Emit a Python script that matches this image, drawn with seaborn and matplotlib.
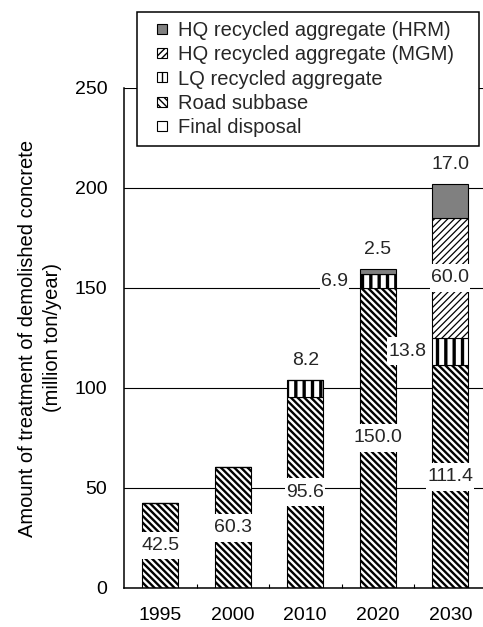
import numpy as np
import pandas as pd
import matplotlib
matplotlib.use("Agg")
import matplotlib.pyplot as plt
import seaborn as sns
from matplotlib.patches import Patch, Rectangle
from matplotlib.path import Path
from matplotlib.ticker import FixedLocator
from matplotlib.legend_handler import HandlerPatch

# Treatment of demolished concrete, million ton/year
years = ["1995", "2000", "2010", "2020", "2030"]
final_disposal = [0.0, 0.0, 0.0, 0.0, 0.0]
road_subbase = [42.5, 60.3, 95.6, 150.0, 111.4]
lq_aggregate = [0.0, 0.0, 8.2, 6.9, 13.8]
hq_mgm = [0.0, 0.0, 0.0, 0.0, 60.0]
hq_hrm = [0.0, 0.0, 0.0, 2.5, 17.0]

y_ticks = [0, 50, 100, 150, 200, 250]

# stacking order, bottom to top
layers = [
    ("Final disposal", final_disposal),
    ("Road subbase", road_subbase),
    ("LQ recycled aggregate", lq_aggregate),
    ("HQ recycled aggregate (MGM)", hq_mgm),
    ("HQ recycled aggregate (HRM)", hq_hrm),
]

# fill / hatch styling for each layer
styles = {
    "Final disposal": dict(face="white", hatch=None, hlw=1.0),
    "Road subbase": dict(face="white", hatch="\\" * 5, hlw=1.7),
    "LQ recycled aggregate": dict(face="white", hatch="||", hlw=2.4),
    "HQ recycled aggregate (MGM)": dict(face="white", hatch="/" * 5, hlw=0.9),
    "HQ recycled aggregate (HRM)": dict(face="#808080", hatch=None, hlw=1.0),
}

# where each value label sits relative to its segment
label_modes = {
    "Road subbase": ["mid", "mid", "mid", "mid", "mid"],
    "LQ recycled aggregate": [None, None, "above", "left", "left"],
    "HQ recycled aggregate (MGM)": [None, None, None, None, "mid"],
    "HQ recycled aggregate (HRM)": [None, None, None, "above", "above"],
}

sns.set_style("white")
plt.rcParams["font.family"] = ["Liberation Sans", "DejaVu Sans"]
FS = 14

W, H = 483, 627
fig = plt.figure(figsize=(W / 100, H / 100), dpi=100)
ax = fig.add_axes([124 / W, 39 / H, 362.5 / W, 500 / H])

bottom = np.zeros(len(years))
for name, values in layers:
    st = styles[name]
    n_before = len(ax.patches)
    with plt.rc_context({"hatch.linewidth": st["hlw"], "hatch.color": "black"}):
        sns.barplot(x=years, y=values, order=years, bottom=bottom.copy(),
                    width=0.5, color=st["face"], saturation=1,
                    edgecolor="black", linewidth=0.8, hatch=st["hatch"],
                    errorbar=None, ax=ax, zorder=2)
    for p in ax.patches[n_before:]:
        if hasattr(p, "set_hatch_linewidth"):
            p.set_hatch_linewidth(st["hlw"])
    bottom = bottom + np.asarray(values)


def label_box(x0, y0, width, height, mutation_size):
    px = 0.06 * mutation_size
    py = 0.28 * mutation_size
    x0, y0 = x0 - px, y0 - py
    x1, y1 = x0 + width + 2 * px, y0 + height + 2 * py
    return Path([(x0, y0), (x1, y0), (x1, y1), (x0, y1), (x0, y0)], closed=True)


box = dict(boxstyle=label_box, facecolor="white", edgecolor="none")

# value labels
base = np.zeros(len(years))
for name, values in layers:
    modes = label_modes.get(name)
    vals = np.asarray(values)
    if modes is not None:
        for i, (v, m) in enumerate(zip(vals, modes)):
            if m is None or v == 0:
                continue
            txt = f"{v:.1f}"
            if m == "mid":
                ax.annotate(txt, (i, base[i] + v / 2), ha="center", va="center",
                            fontsize=FS, bbox=box, zorder=4)
            elif m == "above":
                ax.annotate(txt, (i, base[i] + v), xytext=(0, 14),
                            textcoords="offset points", ha="center", va="center",
                            fontsize=FS, bbox=box, zorder=4)
            elif m == "left":
                ax.annotate(txt, (i, base[i] + v / 2), xytext=(-31, 0),
                            textcoords="offset points", ha="center", va="center",
                            fontsize=FS, bbox=box, zorder=4)
    base = base + vals

ax.set_xlim(-0.5, len(years) - 0.5)
ax.set_ylim(y_ticks[0], y_ticks[-1])
ax.set_yticks(y_ticks)
ax.yaxis.grid(True, color="black", linewidth=0.8)
ax.xaxis.grid(False)
ax.set_axisbelow(True)

for s in ["top", "right"]:
    ax.spines[s].set_visible(False)
for s in ["left", "bottom"]:
    ax.spines[s].set_color("black")
    ax.spines[s].set_linewidth(1.1)

ax.tick_params(axis="y", length=0, pad=12, labelsize=FS, colors="black")
ax.tick_params(axis="x", which="major", length=0, pad=14, labelsize=FS, colors="black")
ax.xaxis.set_minor_locator(FixedLocator(np.arange(0.5, len(years) - 0.5, 1.0)))
ax.tick_params(axis="x", which="minor", direction="in", length=3, width=0.8,
               color="black", bottom=True)
ax.set_xlabel("")
ax.set_ylabel("Amount of treatment of demolished concrete\n(million ton/year)",
              fontsize=14.5, linespacing=1.4, color="black")
ax.yaxis.set_label_coords(-0.172, 0.5)


def square_handle(legend, orig_handle, xdescent, ydescent, width, height, fontsize):
    side = 0.5 * fontsize
    return Rectangle((-xdescent + width - side - 0.3 * fontsize,
                      -ydescent + (height - side) / 2), side, side)


# legend, top layer first
handles = []
for name, _ in reversed(layers):
    st = styles[name]
    h = Patch(facecolor=st["face"], edgecolor="black", hatch=st["hatch"],
              linewidth=0.8, label=name)
    handles.append(h)
leg = ax.legend(handles=handles, loc="upper left",
                bbox_to_anchor=(137 / W, (627 - 143) / H, 342 / W, 131 / H),
                bbox_transform=fig.transFigure, mode="expand", borderaxespad=0,
                fontsize=14.5, frameon=True, fancybox=False, framealpha=1,
                edgecolor="black", handlelength=1.35, handleheight=0.6,
                handletextpad=0.25, labelspacing=0.27, borderpad=0.43,
                handler_map={Patch: HandlerPatch(patch_func=square_handle)})
leg.get_frame().set_linewidth(1.1)
leg.set_zorder(5)

fig.savefig("out.png", dpi=100)
